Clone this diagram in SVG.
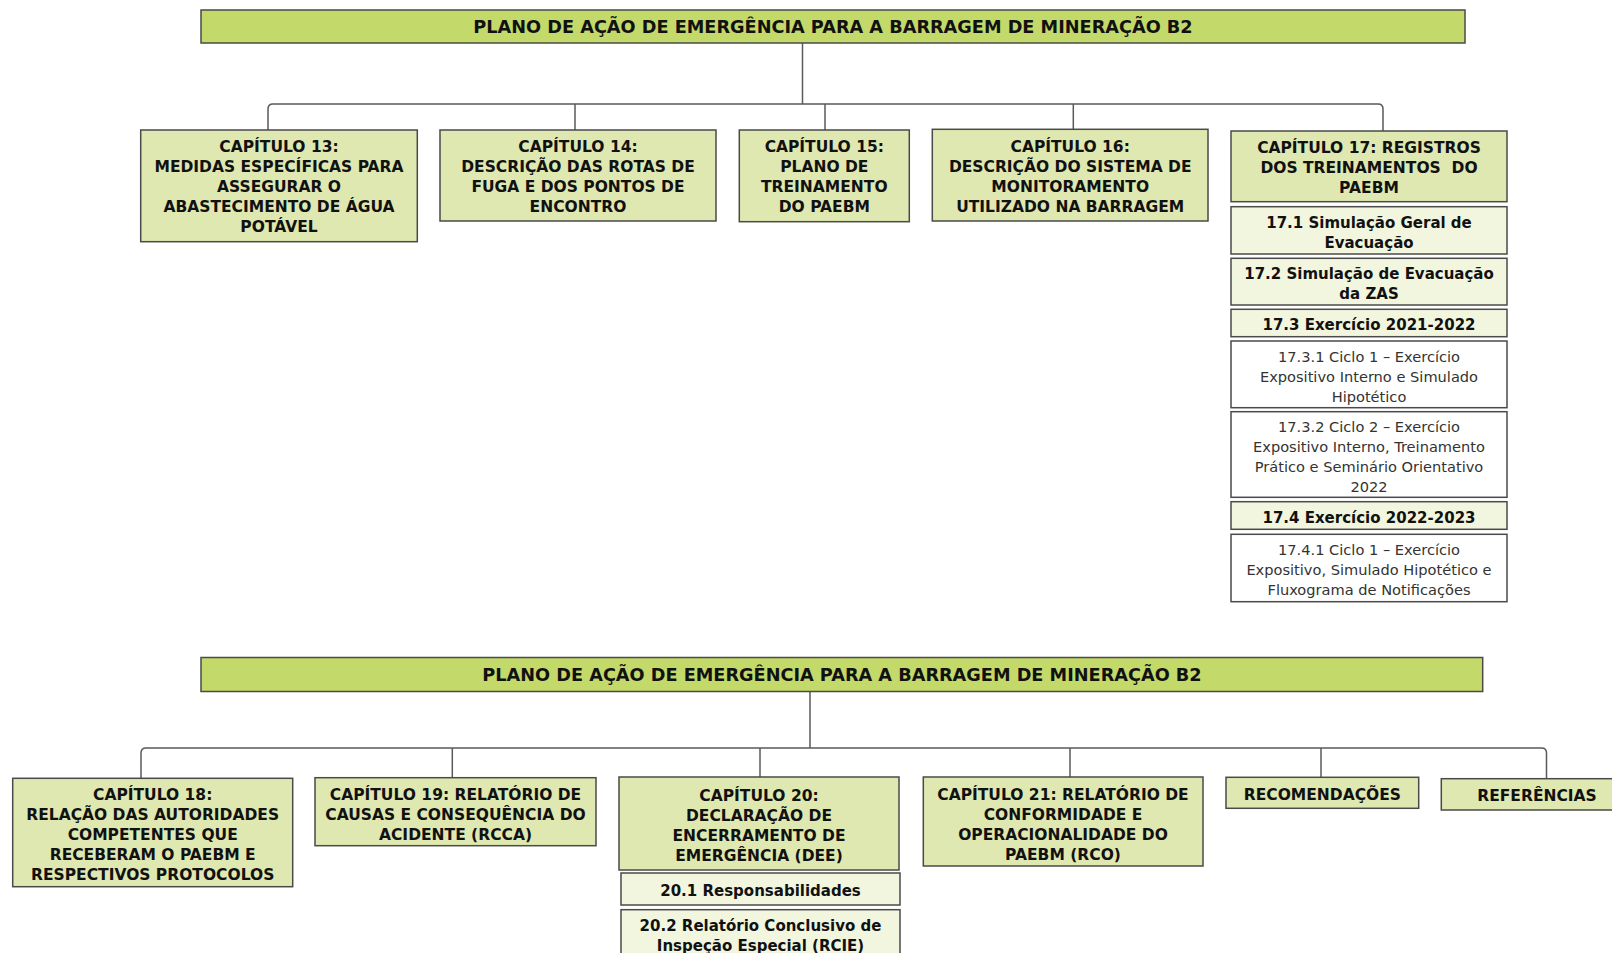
<svg xmlns="http://www.w3.org/2000/svg" width="1612" height="953" viewBox="0 0 1612 953">
<style>
.title{fill:#c3d96a;stroke:#4a4a4a;stroke-width:1.5}
.chap{fill:#dfe8b0;stroke:#4a4a4a;stroke-width:1.5}
.sub{fill:#f2f6df;stroke:#4a4a4a;stroke-width:1.5}
.leaf{fill:#ffffff;stroke:#4a4a4a;stroke-width:1.5}
.conn{fill:none;stroke:#5a5a5a;stroke-width:1.5}
text{font-family:"DejaVu Sans","Liberation Sans",sans-serif;text-anchor:middle;fill:#111}
.tt{font-size:17.7px;font-weight:bold}
.ct{font-size:15.5px;font-weight:bold}
.st{font-size:15px;font-weight:bold}
.lt{font-size:14.6px;fill:#333}
</style>
<rect width="1612" height="953" fill="#ffffff"/>
<g id="connectors">
<path class="conn" d="M802.5,43 V104"/>
<path class="conn" d="M268,130 V109 Q268,104 273,104 H1378 Q1383,104 1383,109 V131"/>
<path class="conn" d="M575,104 V130"/>
<path class="conn" d="M825,104 V130"/>
<path class="conn" d="M1073.3,104 V129.3"/>
<path class="conn" d="M810,691.5 V748"/>
<path class="conn" d="M141,778.3 V753 Q141,748 146,748 H1541.5 Q1546.5,748 1546.5,753 V778.7"/>
<path class="conn" d="M452.3,748 V777.7"/>
<path class="conn" d="M760,748 V777"/>
<path class="conn" d="M1070,748 V777"/>
<path class="conn" d="M1321,748 V777.3"/>
</g>
<g id="title1">
<rect class="title" x="201" y="10" width="1264" height="33"/>
<text class="tt" x="833" y="33">PLANO DE AÇÃO DE EMERGÊNCIA PARA A BARRAGEM DE MINERAÇÃO B2</text>
</g>
<g id="cap13">
<rect class="chap" x="140.7" y="130" width="276.6" height="111.7"/>
<text class="ct" x="279" y="151.8">CAPÍTULO 13:</text>
<text class="ct" x="279" y="171.8">MEDIDAS ESPECÍFICAS PARA</text>
<text class="ct" x="279" y="191.8">ASSEGURAR O</text>
<text class="ct" x="279" y="211.8">ABASTECIMENTO DE ÁGUA</text>
<text class="ct" x="279" y="231.8">POTÁVEL</text>
</g>
<g id="cap14">
<rect class="chap" x="440" y="130" width="276" height="91"/>
<text class="ct" x="578" y="152.2">CAPÍTULO 14:</text>
<text class="ct" x="578" y="172.2">DESCRIÇÃO DAS ROTAS DE</text>
<text class="ct" x="578" y="192.2">FUGA E DOS PONTOS DE</text>
<text class="ct" x="578" y="212.2">ENCONTRO</text>
</g>
<g id="cap15">
<rect class="chap" x="739.3" y="130" width="170" height="91.7"/>
<text class="ct" x="824.3" y="152">CAPÍTULO 15:</text>
<text class="ct" x="824.3" y="172">PLANO DE</text>
<text class="ct" x="824.3" y="192">TREINAMENTO</text>
<text class="ct" x="824.3" y="212">DO PAEBM</text>
</g>
<g id="cap16">
<rect class="chap" x="932.3" y="129.3" width="275.7" height="91.7"/>
<text class="ct" x="1070.2" y="151.5">CAPÍTULO 16:</text>
<text class="ct" x="1070.2" y="171.5">DESCRIÇÃO DO SISTEMA DE</text>
<text class="ct" x="1070.2" y="191.5">MONITORAMENTO</text>
<text class="ct" x="1070.2" y="211.5">UTILIZADO NA BARRAGEM</text>
</g>
<g id="cap17">
<rect class="chap" x="1231" y="131" width="276" height="70.7"/>
<text class="ct" x="1369" y="152.5">CAPÍTULO 17: REGISTROS</text>
<text class="ct" x="1369" y="172.5" xml:space="preserve">DOS TREINAMENTOS  DO</text>
<text class="ct" x="1369" y="192.5">PAEBM</text>
</g>
<g id="s17_1">
<rect class="sub" x="1231" y="206.7" width="276" height="47.3"/>
<text class="st" x="1369" y="227.8">17.1 Simulação Geral de</text>
<text class="st" x="1369" y="247.8">Evacuação</text>
</g>
<g id="s17_2">
<rect class="sub" x="1231" y="258.3" width="276" height="46.7"/>
<text class="st" x="1369" y="279.1">17.2 Simulação de Evacuação</text>
<text class="st" x="1369" y="299.1">da ZAS</text>
</g>
<g id="s17_3">
<rect class="sub" x="1231" y="309.3" width="276" height="27.4"/>
<text class="st" x="1369" y="330.3">17.3 Exercício 2021-2022</text>
</g>
<g id="s17_3_1">
<rect class="leaf" x="1231" y="341" width="276" height="66.7"/>
<text class="lt" x="1369" y="361.6">17.3.1 Ciclo 1 – Exercício</text>
<text class="lt" x="1369" y="381.6">Expositivo Interno e Simulado</text>
<text class="lt" x="1369" y="401.6">Hipotético</text>
</g>
<g id="s17_3_2">
<rect class="leaf" x="1231" y="411.7" width="276" height="85.6"/>
<text class="lt" x="1369" y="432.3">17.3.2 Ciclo 2 – Exercício</text>
<text class="lt" x="1369" y="452.3">Expositivo Interno, Treinamento</text>
<text class="lt" x="1369" y="472.3">Prático e Seminário Orientativo</text>
<text class="lt" x="1369" y="492.3">2022</text>
</g>
<g id="s17_4">
<rect class="sub" x="1231" y="501.7" width="276" height="27.6"/>
<text class="st" x="1369" y="522.8">17.4 Exercício 2022-2023</text>
</g>
<g id="s17_4_1">
<rect class="leaf" x="1231" y="534.3" width="276" height="67.4"/>
<text class="lt" x="1369" y="555.3">17.4.1 Ciclo 1 – Exercício</text>
<text class="lt" x="1369" y="575.3">Expositivo, Simulado Hipotético e</text>
<text class="lt" x="1369" y="595.3">Fluxograma de Notificações</text>
</g>
<g id="title2">
<rect class="title" x="201" y="657.5" width="1281.7" height="34"/>
<text class="tt" x="842" y="681">PLANO DE AÇÃO DE EMERGÊNCIA PARA A BARRAGEM DE MINERAÇÃO B2</text>
</g>
<g id="cap18">
<rect class="chap" x="12.7" y="778.3" width="280" height="108.4"/>
<text class="ct" x="152.7" y="800">CAPÍTULO 18:</text>
<text class="ct" x="152.7" y="820">RELAÇÃO DAS AUTORIDADES</text>
<text class="ct" x="152.7" y="840">COMPETENTES QUE</text>
<text class="ct" x="152.7" y="860">RECEBERAM O PAEBM E</text>
<text class="ct" x="152.7" y="880">RESPECTIVOS PROTOCOLOS</text>
</g>
<g id="cap19">
<rect class="chap" x="315" y="777.7" width="281" height="68"/>
<text class="ct" x="455.5" y="799.8">CAPÍTULO 19: RELATÓRIO DE</text>
<text class="ct" x="455.5" y="819.8">CAUSAS E CONSEQUÊNCIA DO</text>
<text class="ct" x="455.5" y="839.8">ACIDENTE (RCCA)</text>
</g>
<g id="cap20">
<rect class="chap" x="619" y="777" width="280" height="93"/>
<text class="ct" x="759" y="800.5">CAPÍTULO 20:</text>
<text class="ct" x="759" y="820.5">DECLARAÇÃO DE</text>
<text class="ct" x="759" y="840.5">ENCERRAMENTO DE</text>
<text class="ct" x="759" y="860.5">EMERGÊNCIA (DEE)</text>
</g>
<g id="s20_1">
<rect class="sub" x="621" y="873" width="279" height="32"/>
<text class="st" x="760.5" y="895.5">20.1 Responsabilidades</text>
</g>
<g id="s20_2">
<rect class="sub" x="621" y="909.7" width="279" height="72"/>
<text class="st" x="760.5" y="930.5">20.2 Relatório Conclusivo de</text>
<text class="st" x="760.5" y="950.5">Inspeção Especial (RCIE)</text>
</g>
<g id="cap21">
<rect class="chap" x="923.3" y="777" width="279.7" height="89"/>
<text class="ct" x="1063" y="799.8">CAPÍTULO 21: RELATÓRIO DE</text>
<text class="ct" x="1063" y="819.8">CONFORMIDADE E</text>
<text class="ct" x="1063" y="839.8">OPERACIONALIDADE DO</text>
<text class="ct" x="1063" y="859.8">PAEBM (RCO)</text>
</g>
<g id="recomendacoes">
<rect class="chap" x="1226" y="777.3" width="192.7" height="31"/>
<text class="ct" x="1322.4" y="800">RECOMENDAÇÕES</text>
</g>
<g id="referencias">
<rect class="chap" x="1441.3" y="778.7" width="200" height="31.3"/>
<text class="ct" x="1537" y="801.2">REFERÊNCIAS</text>
</g>
</svg>
